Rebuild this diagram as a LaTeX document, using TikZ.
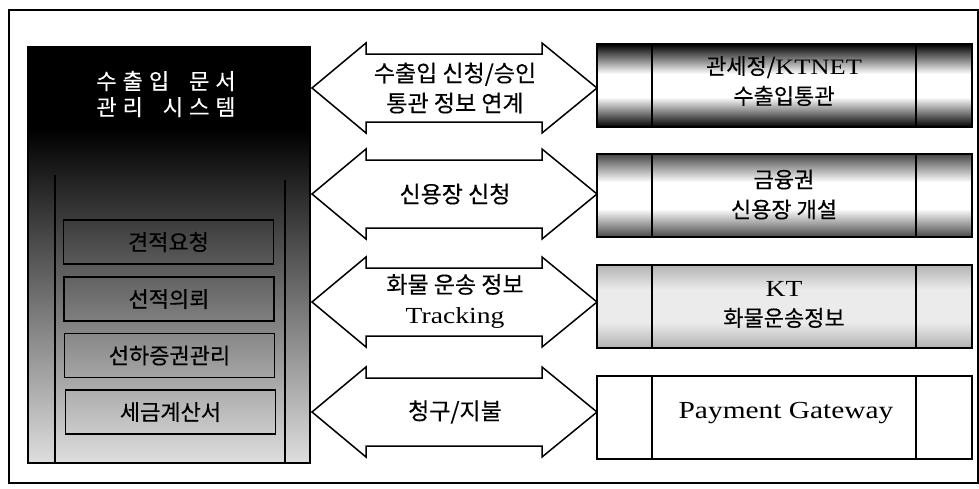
\documentclass[tikz,border=0pt]{standalone}
\usepackage{fontspec}
\setmainfont{Noto Sans CJK KR}
\newfontfamily\kr[FakeBold=0.3]{Noto Sans CJK KR}
\newfontfamily\lat[FakeStretch=1.2]{Liberation Serif}
\colorlet{bandA}{black}
\colorlet{bandB}{black!72}
\colorlet{bandC}{black!30}
\pgfdeclareverticalshading{shA}{100bp}{color(0bp)=(bandA); color(25bp)=(bandA); color(43bp)=(white); color(57bp)=(white); color(75bp)=(bandA); color(100bp)=(bandA)}
\pgfdeclareverticalshading{shB}{100bp}{color(0bp)=(bandB); color(25bp)=(bandB); color(42bp)=(white); color(58bp)=(white); color(75bp)=(bandB); color(100bp)=(bandB)}
\pgfdeclareverticalshading{shC}{100bp}{color(0bp)=(bandC); color(25bp)=(bandC); color(40bp)=(black!8); color(60bp)=(black!8); color(75bp)=(bandC); color(100bp)=(bandC)}
\newcommand\ls{\hspace{6pt}}
\begin{document}
\begin{tikzpicture}[x=1pt,y=-1pt,line join=miter,
  krtext/.style={font=\kr\fontsize{23}{30}\selectfont, align=center, inner sep=0pt},
  subbox/.style={draw, line width=1.8pt, minimum width=210pt, minimum height=44pt, inner sep=0pt,
    text=black, font=\kr\fontsize{22}{26}\selectfont},
  extbox/.style={draw, line width=2pt, minimum width=375pt, minimum height=83pt, inner sep=0pt},
  exttext/.style={font=\kr\fontsize{22}{30}\selectfont, align=center, inner sep=0pt},
  arrowshape/.style={draw, fill=white, line width=1.5pt}
]
\useasboundingbox (0,0) rectangle (979,488);
\node[draw, line width=1.5pt, minimum width=969pt, minimum height=473pt, inner sep=0pt, anchor=north west] (frame) at (8,9) {};

% left system box
\node[draw, line width=2pt, minimum width=282pt, minimum height=416pt, inner sep=0pt,
  path picture={
    \fill[black] (path picture bounding box.north west) rectangle ([yshift=-84pt]path picture bounding box.north east);
    \shade[top color=black, bottom color=black!13] ([yshift=-82pt]path picture bounding box.north west) rectangle (path picture bounding box.south east);
  }] (sys) at (169,255) {};
\draw[line width=1.5pt] (55,175) -- (55,463);
\draw[line width=1.5pt] (285,180) -- (285,463);
\node[text=white, font=\kr\fontsize{22}{26}\selectfont, align=center, inner sep=0pt] (title) at (166,94)
  {수\ls 출\ls 입\hspace{20pt}문\ls 서\\관\ls 리\hspace{20pt}시\ls 스\ls 템};
\node[subbox] (s1) at (168.5,242) {견적요청};
\node[subbox] (s2) at (169,299) {선적의뢰};
\node[subbox] (s3) at (169.5,355.5) {선하증권관리};
\node[subbox] (s4) at (170.5,412) {세금계산서};

% right boxes
\node[extbox, shading=shA] (r1) at (784.5,85.5) {};
\node[extbox, shading=shB] (r2) at (784.5,195.5) {};
\node[extbox, shading=shC] (r3) at (784.5,306) {};
\node[extbox, fill=white] (r4) at (784.5,417) {};
\foreach \r in {r1,r2,r3,r4}{
  \draw[line width=1.8pt] ([xshift=56pt]\r.north west) -- ([xshift=56pt]\r.south west);
  \draw[line width=1.8pt] ([xshift=-57pt]\r.north east) -- ([xshift=-57pt]\r.south east);
}
\node[exttext] (t1) at (784,81) {관세정/{\lat KTNET}\\수출입통관};
\node[exttext] (t2) at (784,194.5) {금융권\\신용장 개설};
\node[exttext] (t3) at (784,304.5) {{\lat\fontsize{23}{30}\selectfont KT}\\화물운송정보};
\node[inner sep=0pt, font=\lat\fontsize{24.5}{30}\selectfont] (t4) at (786,413) {Payment Gateway};

% double arrows
\foreach \yc/\nm in {88/a1,194/a2,302/a3,412/a4}{
  \draw[arrowshape] (312,\yc) -- (366,{\yc-45}) -- (366,{\yc-34}) -- (542,{\yc-34}) -- (542,{\yc-45})
    -- (597,\yc) -- (542,{\yc+45}) -- (542,{\yc+34}) -- (366,{\yc+34}) -- (366,{\yc+45}) -- cycle;
  \coordinate (\nm) at (455,\yc);
}
\node[krtext] (l1) at (a1) {수출입 신청/승인\\통관 정보 연계};
\node[krtext] (l2) at (a2) {신용장 신청};
\node[krtext] (l3) at (455,301) {화물 운송 정보\\{\lat\fontsize{23}{30}\selectfont Tracking}};
\node[krtext] (l4) at (a4) {청구/지불};
\end{tikzpicture}
\end{document}
